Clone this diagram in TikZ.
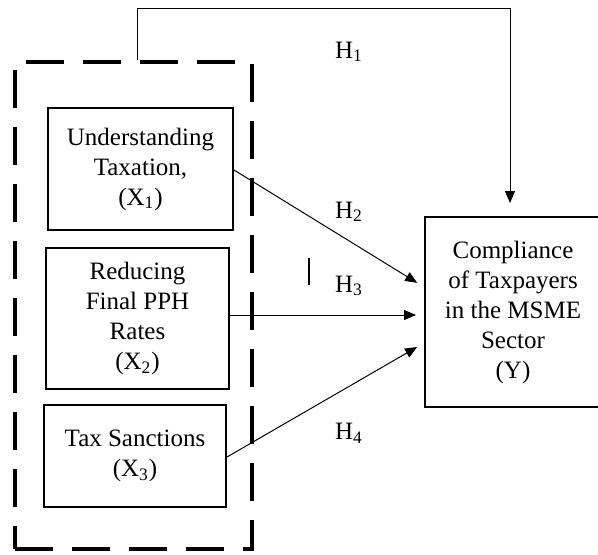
\documentclass[tikz,border=0pt]{standalone}
\usepackage{fontspec}
\setmainfont{Liberation Serif}
\usetikzlibrary{arrows.meta,positioning}

\begin{document}
\begin{tikzpicture}[
    x=0.5pt, y=-0.5pt,
    font=\fontsize{12.5}{15}\selectfont,
    var/.style={rectangle, draw=black, line width=1pt, align=center, inner sep=2pt},
    group/.style={rectangle, draw=black, line width=2pt, dash pattern=on 19pt off 9.5pt, minimum width=118.5pt, minimum height=243.5pt},
    arr/.style={-{Triangle[length=6pt, width=5pt]}, line width=0.5pt},
    hyp/.style={inner sep=0pt}
]
\useasboundingbox (0,0) rectangle (598,554);

\node[group] (grp) at (133.5,305.5) {};

\node[var, minimum width=92.5pt, minimum height=61pt] (x1) at (140.5,169) {Understanding\\Taxation,\\(X\textsubscript{1})};
\node[var, minimum width=91.5pt, minimum height=70.5pt] (x2) at (137.5,318.5) {Reducing\\Final PPH\\Rates\\(X\textsubscript{2})};
\node[var, minimum width=91pt, minimum height=51pt] (x3) at (135,456) {Tax Sanctions\\(X\textsubscript{3})};
\node[var, minimum width=88pt, minimum height=95pt] (y) at (513,312) {Compliance\\of Taxpayers\\in the MSME\\Sector\\(Y)};

\node[hyp] (h1) at (349,52) {H\textsubscript{1}};
\node[hyp] (h2) at (349,212) {H\textsubscript{2}};
\node[hyp] (h3) at (349,286) {H\textsubscript{3}};
\node[hyp] (h4) at (349,433) {H\textsubscript{4}};

\coordinate (top) at (510,8);
\coordinate (t2) at ([yshift=12.5pt]y.west);
\coordinate (s3) at ([yshift=1.75pt]x2.east);
\coordinate (t4) at ([yshift=-15.5pt]y.west);

\draw[arr, shorten >=6.5pt] ([xshift=1.75pt]grp.north) |- (top) -- (top |- y.north);
\draw[arr, shorten >=4pt] ([yshift=-0.5pt]x1.east) -- (t2);
\draw[arr, shorten >=4pt] (s3) -- (s3 -| y.west);
\draw[arr, shorten >=4pt] ([yshift=-0.5pt]x3.east) -- (t4);

\draw[line width=0.6pt] (309,258) -- (309,285);
\end{tikzpicture}
\end{document}
